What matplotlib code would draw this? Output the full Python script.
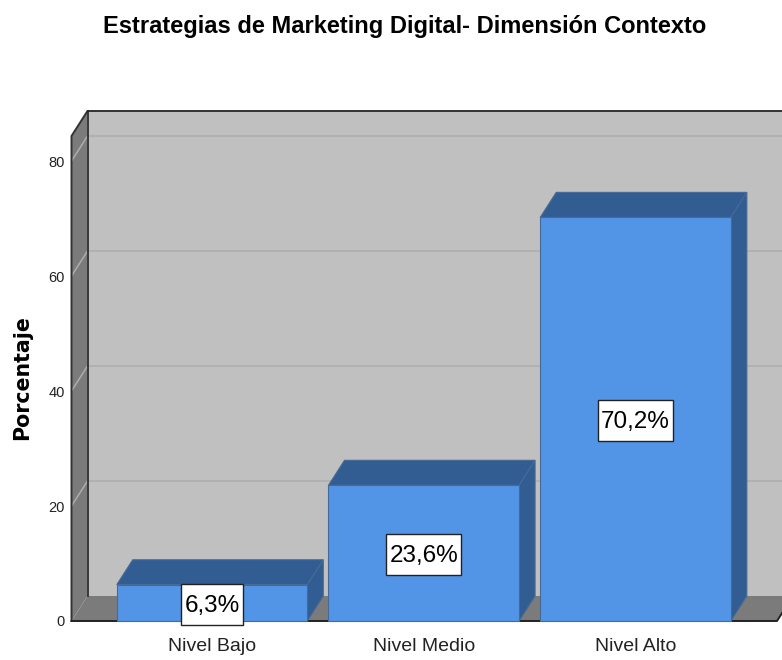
import matplotlib
matplotlib.use("Agg")
import matplotlib.pyplot as plt
from matplotlib.patches import Polygon, Rectangle

categories = ["Nivel Bajo", "Nivel Medio", "Nivel Alto"]
values = [6.3, 23.6, 70.2]
value_labels = ["6,3%", "23,6%", "70,2%"]
y_ticks = [0, 20, 40, 60, 80]
title = "Estrategias de Marketing Digital- Dimensión Contexto"
y_label = "Porcentaje"

FONT = "Liberation Sans"

W, H = 782, 660
fig = plt.figure(figsize=(W / 100, H / 100), dpi=100, facecolor="white")
L, R, B, T = 71.5, 777, 621, 136
ax = fig.add_axes([L / W, 1 - B / H, (R - L) / W, (B - T) / H])
ax.set_xlim(-0.6635, 2.668)
ax.set_ylim(0, 84.35)
for s in ax.spines.values():
    s.set_visible(False)
ax.patch.set_visible(False)

px = (2.668 + 0.6635) / (R - L)
py = 84.35 / (B - T)
dx, dy = 16 * px, 25 * py
x0, x1 = ax.get_xlim()
y1 = ax.get_ylim()[1]


def poly(pts, fc, ec="none", lw=0.8, z=1):
    ax.add_patch(Polygon(pts, closed=True, fc=fc, ec=ec, lw=lw, zorder=z, clip_on=False, joinstyle="miter"))


WALL = "#c0c0c0"
SIDE = "#7b7b7b"
poly([(x0 + dx, dy), (x1 + dx, dy), (x1 + dx, y1 + dy), (x0 + dx, y1 + dy)], WALL, z=1)
poly([(x0, 0), (x0 + dx, dy), (x0 + dx, y1 + dy), (x0, y1)], SIDE, z=1)
poly([(x0, 0), (x1, 0), (x1 + dx, dy), (x0 + dx, dy)], SIDE, z=1)
for t in y_ticks[1:]:
    ax.plot([x0, x0 + dx, x1 + dx], [t, t + dy, t + dy], color="#adadad", lw=1.1, zorder=1.5, clip_on=False)
ax.plot([x0, x0, x0 + dx, x1 + dx], [0, y1, y1 + dy, y1 + dy], color="#333333", lw=1.4, zorder=2, clip_on=False)
ax.plot([x0 + dx, x0 + dx], [y1 + dy, dy], color="#222222", lw=1.2, zorder=2, clip_on=False)
ax.plot([x0, x1, x1 + dx], [0, 0, dy], color="#222222", lw=1.4, zorder=2, clip_on=False)

FRONT = "#5294e5"
DARK = "#325d92"
EDGE = "#466a96"
w = 0.9
texts = []
for i, v in enumerate(values):
    a, b = i - w / 2, i + w / 2
    poly([(a, v), (b, v), (b + dx, v + dy), (a + dx, v + dy)], DARK, EDGE, z=3)
    poly([(b, 0), (b + dx, dy), (b + dx, v + dy), (b, v)], DARK, EDGE, z=3)
    poly([(a, 0), (b, 0), (b, v), (a, v)], FRONT, EDGE, z=3.1)
    texts.append(ax.text(i, v / 2 - 0.3 - 1.5 * py, value_labels[i], ha="center", va="center", family=FONT,
                         fontsize=17.5, color="black", zorder=5, clip_on=False))

ax.set_xticks(range(len(categories)))
ax.set_xticklabels(categories, family=FONT, fontsize=14, color="#222222")
ax.tick_params(axis="x", length=0, pad=12)
ax.set_yticks(y_ticks)
ax.set_yticklabels([str(t) for t in y_ticks], family=FONT, fontsize=10.5, color="#222222",
                    va="center_baseline")
ax.tick_params(axis="y", length=0, pad=5)
fig.text(405 / W, 1 - 27 / H, title, ha="center", va="center", family=FONT, weight="bold",
         fontsize=17, color="black")
fig.text(22 / W, 1 - 378 / H, y_label, rotation=90, ha="center", va="center",
         family="DejaVu Sans", weight="bold", fontsize=14.8, color="black")

# White label boxes sized around the rendered text
renderer = fig.canvas.get_renderer()
for i, (v, t) in enumerate(zip(values, texts)):
    width_px = t.get_window_extent(renderer).width + 6
    ax.add_patch(Rectangle((i - width_px * px / 2, v / 2 - 0.3 - 20.5 * py), width_px * px, 41 * py,
                           fc="white", ec="#222222", lw=1, zorder=4.5, clip_on=False))

fig.savefig("out.png", dpi=100)
